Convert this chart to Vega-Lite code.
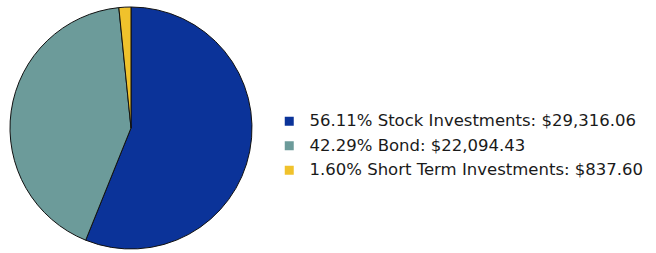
{
  "$schema": "https://vega.github.io/schema/vega-lite/v6.json",
  "width": 244,
  "height": 244,
  "autosize": {"type": "none"},
  "padding": {"left": 9, "top": 6, "right": 403, "bottom": 3},
  "background": "white",
  "view": {"stroke": null},
  "data": {
    "values": [
      {"idx": 1, "label": "56.11% Stock Investments: $29,316.06", "value": 29316.06},
      {"idx": 2, "label": "42.29% Bond: $22,094.43", "value": 22094.43},
      {"idx": 3, "label": "1.60% Short Term Investments: $837.60", "value": 837.60}
    ]
  },
  "mark": {"type": "arc", "stroke": "#111111", "strokeWidth": 1, "outerRadius": 121},
  "encoding": {
    "theta": {"field": "value", "type": "quantitative", "stack": true},
    "order": {"field": "idx", "type": "quantitative"},
    "color": {
      "field": "label",
      "type": "nominal",
      "scale": {
        "domain": ["56.11% Stock Investments: $29,316.06", "42.29% Bond: $22,094.43", "1.60% Short Term Investments: $837.60"],
        "range": ["#0b3399", "#6c9b9a", "#f0c22c"]
      },
      "legend": {
        "title": null,
        "orient": "none",
        "legendX": 272,
        "legendY": 107,
        "padding": 0,
        "symbolType": "square",
        "symbolSize": 81,
        "symbolStrokeWidth": 0,
        "labelOffset": 12,
        "labelFont": "DejaVu Sans",
        "labelFontSize": 16.5,
        "labelColor": "#1a1a1a",
        "labelLimit": 400,
        "rowPadding": 7.5
      }
    }
  }
}
